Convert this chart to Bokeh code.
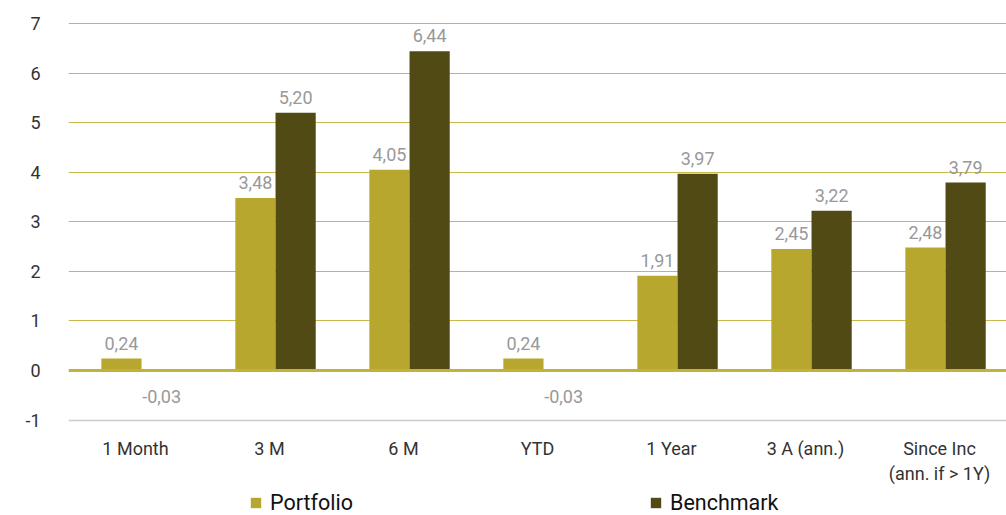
from bokeh.plotting import figure
from bokeh.models import (ColumnDataSource, FactorRange, Range1d, FixedTicker, Grid,
                          Span, Legend, LegendItem)
from bokeh.transform import dodge
from bokeh.core.properties import value
from bokeh.embed import file_html
from bokeh.resources import INLINE

categories = ["1 Month", "3 M", "6 M", "YTD", "1 Year", "3 A (ann.)", "Since Inc\n(ann. if > 1Y)"]
portfolio = [0.24, 3.48, 4.05, 0.24, 1.91, 2.45, 2.48]
benchmark = [-0.03, 5.20, 6.44, -0.03, 3.97, 3.22, 3.79]
y_ticks = [-1, 0, 1, 2, 3, 4, 5, 6, 7]

PORT_COLOR = "#B8A72F"
BENCH_COLOR = "#524A15"
GRID_COLOR = "#C9B84A"
FONT = "Roboto"


def fmt(v):
    return f"{v:.2f}".replace(".", ",")


def label_cols(vals):
    texts = [fmt(v) for v in vals]
    base = ["bottom" if v >= 0 else "top" for v in vals]
    off = [-9 if v >= 0 else 18 for v in vals]
    return texts, base, off


pt, pb, po = label_cols(portfolio)
bt, bb, bo = label_cols(benchmark)

src = ColumnDataSource(dict(cat=categories, portfolio=portfolio, benchmark=benchmark,
                            pt=pt, pb=pb, po=po, bt=bt, bb=bb, bo=bo))

p = figure(x_range=FactorRange(*categories, range_padding=0),
           y_range=Range1d(-2.925, 7.262),
           width=1006, height=515, output_backend="svg", toolbar_location=None,
           min_border_left=68, min_border_right=0, min_border_top=10, min_border_bottom=0)
p.outline_line_color = None
p.background_fill_color = "white"
p.border_fill_color = "white"

shift = 0.045
bw = 0.3
r1 = p.vbar(x=dodge("cat", -bw / 2 + shift, range=p.x_range), top="portfolio", width=bw,
            source=src, fill_color=PORT_COLOR, line_color=None)
r2 = p.vbar(x=dodge("cat", bw / 2 + shift, range=p.x_range), top="benchmark", width=bw,
            source=src, fill_color=BENCH_COLOR, line_color=None)

p.text(x=dodge("cat", -bw / 2 + shift, range=p.x_range), y="portfolio", text="pt",
       text_baseline="pb", y_offset="po", text_align="center", source=src,
       text_font=value(FONT), text_font_size="18px", text_color="#999999")
p.text(x=dodge("cat", bw / 2 + shift, range=p.x_range), y="benchmark", text="bt",
       text_baseline="bb", y_offset="bo", text_align="center", source=src,
       text_font=value(FONT), text_font_size="18px", text_color="#999999")

# grid
p.xgrid.grid_line_color = None
p.ygrid.grid_line_color = None
g1 = Grid(dimension=1, ticker=FixedTicker(ticks=[t for t in y_ticks if t > 0]),
          grid_line_color=GRID_COLOR, grid_line_width=1)
g2 = Grid(dimension=1, ticker=FixedTicker(ticks=[t for t in y_ticks if t < 0]),
          grid_line_color="#CCCCCC", grid_line_width=1.5)
p.add_layout(g1)
p.add_layout(g2)
p.add_layout(Span(location=0, dimension="width", line_color="#C2B23A", line_width=3))

# axes
p.yaxis.ticker = FixedTicker(ticks=y_ticks)
p.yaxis.major_label_overrides = {t: str(t) for t in y_ticks}
p.yaxis.axis_line_color = None
p.yaxis.major_tick_line_color = None
p.yaxis.minor_tick_line_color = None
p.yaxis.major_label_standoff = 22
p.yaxis.major_label_text_font = FONT
p.yaxis.major_label_text_font_size = "18px"
p.yaxis.major_label_text_color = "#333333"

p.xaxis.fixed_location = -1.0
p.xaxis.axis_line_color = None
p.xaxis.major_tick_line_color = None
p.xaxis.minor_tick_line_color = None
p.xaxis.major_label_standoff = 12
p.xaxis.major_label_text_font = FONT
p.xaxis.major_label_text_font_size = "18px"
p.xaxis.major_label_text_color = "#333333"

legend = Legend(items=[LegendItem(label="Portfolio", renderers=[r1]),
                       LegendItem(label="Benchmark", renderers=[r2])],
                orientation="horizontal", location=(181, 0), spacing=229,
                padding=0, margin=0, border_line_color=None, background_fill_alpha=0,
                glyph_width=13, glyph_height=13, label_standoff=8, label_width=150,
                label_text_font=FONT, label_text_font_size="21.5px",
                label_text_color="#111111", label_height=24)
p.add_layout(legend)

open("out.html", "w").write(file_html(p, INLINE))
